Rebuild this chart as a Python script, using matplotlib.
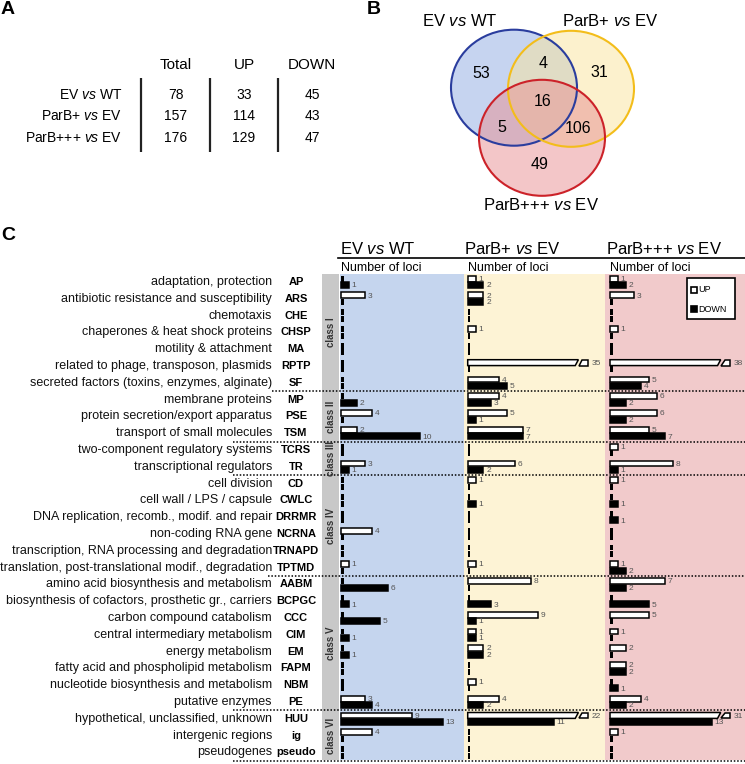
import matplotlib
matplotlib.use("Agg")
import matplotlib.pyplot as plt
from matplotlib.patches import Rectangle, Polygon, Ellipse

plt.rcParams['font.family'] = ['Liberation Sans', 'DejaVu Sans']
plt.rcParams['mathtext.fontset'] = 'custom'
plt.rcParams['mathtext.rm'] = 'Liberation Sans'
plt.rcParams['mathtext.it'] = 'Liberation Sans:italic'

# ---------------- data ----------------
comparisons = ["EV $\\mathit{vs}$ WT", "ParB+ $\\mathit{vs}$ EV", "ParB+++ $\\mathit{vs}$ EV"]
table_cols = ["Total", "UP", "DOWN"]
totals = [78, 157, 176]
ups = [33, 114, 129]
downs = [45, 43, 47]

venn_only_ev = 53
venn_only_p1 = 31
venn_only_p3 = 49
venn_ev_p1 = 4
venn_ev_p3 = 5
venn_p1_p3 = 106
venn_all = 16

descriptions = [
    "adaptation, protection", "antibiotic resistance and susceptibility", "chemotaxis",
    "chaperones & heat shock proteins", "motility & attachment",
    "related to phage, transposon, plasmids", "secreted factors (toxins, enzymes, alginate)",
    "membrane proteins", "protein secretion/export apparatus", "transport of small molecules",
    "two-component regulatory systems", "transcriptional regulators",
    "cell division", "cell wall / LPS / capsule", "DNA replication, recomb., modif. and repair",
    "non-coding RNA gene", "transcription, RNA processing and degradation",
    "translation, post-translational modif., degradation",
    "amino acid biosynthesis and metabolism", "biosynthesis of cofactors, prosthetic gr., carriers",
    "carbon compound catabolism", "central intermediary metabolism", "energy metabolism",
    "fatty acid and phospholipid metabolism", "nucleotide biosynthesis and metabolism",
    "putative enzymes",
    "hypothetical, unclassified, unknown", "intergenic regions", "pseudogenes",
]
abbrevs = ["AP", "ARS", "CHE", "CHSP", "MA", "RPTP", "SF",
           "MP", "PSE", "TSM",
           "TCRS", "TR",
           "CD", "CWLC", "DRRMR", "NCRNA", "TRNAPD", "TPTMD",
           "AABM", "BCPGC", "CCC", "CIM", "EM", "FAPM", "NBM", "PE",
           "HUU", "ig", "pseudo"]
class_names = ["class I", "class II", "class III", "class IV", "class V", "class VI"]
class_sizes = [7, 3, 2, 6, 8, 3]

ev_wt_up =   [0, 3, 0, 0, 0, 0, 0,  0, 4, 2,  0, 3,  0, 0, 0, 4, 0, 1,  0, 0, 0, 0, 0, 0, 0, 3,  9, 4, 0]
ev_wt_down = [1, 0, 0, 0, 0, 0, 0,  2, 0, 10, 0, 1,  0, 0, 0, 0, 0, 0,  6, 1, 5, 1, 1, 0, 0, 4,  13, 0, 0]
parb1_up =   [1, 2, 0, 1, 0, 35, 4, 4, 5, 7,  0, 6,  1, 0, 0, 0, 0, 1,  8, 0, 9, 1, 2, 0, 1, 4,  22, 0, 0]
parb1_down = [2, 2, 0, 0, 0, 0, 5,  3, 1, 7,  0, 2,  0, 1, 0, 0, 0, 0,  0, 3, 1, 1, 2, 0, 0, 2,  11, 0, 0]
parb3_up =   [1, 3, 0, 1, 0, 38, 5, 6, 6, 5,  1, 8,  1, 0, 0, 0, 0, 1,  7, 0, 5, 1, 2, 2, 0, 4,  31, 1, 0]
parb3_down = [2, 0, 0, 0, 0, 0, 4,  2, 2, 7,  0, 1,  0, 1, 1, 0, 0, 2,  2, 5, 0, 0, 0, 2, 1, 2,  13, 0, 0]

panel_series = [(ev_wt_up, ev_wt_down), (parb1_up, parb1_down), (parb3_up, parb3_down)]

# ---------------- layout ----------------
W, H = 745, 764
fig = plt.figure(figsize=(W / 100, H / 100), dpi=100)

ROW0, DROW = 282.0, 16.8
PTOP, PBOT = 274.0, 760.0
SCALE = 7.85
panel_geom = [(340, 464, 341.0), (464, 605, 467.7), (605, 745, 610.0)]
panel_bg = ["#c5d5ee", "#fdf3d5", "#f1cacb"]
CAP = 16
BH = 0.35          # bar height (row units)
OFF_UP, OFF_DN = -0.2, 0.19


def row_y(i):
    return ROW0 + i * DROW


for (left, right, origin), bg, (up, down) in zip(panel_geom, panel_bg, panel_series):
    ax = fig.add_axes([left / W, 1 - PBOT / H, (right - left) / W, (PBOT - PTOP) / H])
    ax.set_facecolor(bg)
    ax.set_xlim((left - origin) / SCALE, (right - origin) / SCALE)
    ax.set_ylim((PBOT - ROW0) / DROW, (PTOP - ROW0) / DROW)
    for s in ax.spines.values():
        s.set_visible(False)
    ax.set_xticks([]); ax.set_yticks([])
    for i in range(len(up)):
        for val, off, face in ((up[i], OFF_UP, "white"), (down[i], OFF_DN, "black")):
            yc = i + off
            top, bot = yc - BH / 2, yc + BH / 2
            if val == 0:
                ax.barh(yc, 0.35, height=BH, left=0, color="black", lw=0, zorder=3)
                continue
            if val > CAP:
                main = Polygon([(0, top), (14.1, top), (13.7, bot), (0, bot)], closed=True,
                               facecolor=face, edgecolor="black", lw=1.1, zorder=3)
                tail = Polygon([(14.6, top), (15.35, top), (15.35, bot), (14.2, bot)], closed=True,
                               facecolor=face, edgecolor="black", lw=1.1, zorder=3)
                ax.add_patch(main); ax.add_patch(tail)
                xl = 15.75
            else:
                ax.barh(yc, val, height=BH, left=0, facecolor=face, edgecolor="black",
                        lw=1.1, zorder=3)
                xl = val + 0.35
            ax.text(xl, yc + 0.04, str(val), fontsize=6, color="#555555",
                    va="center", ha="left", zorder=4)

# overlay axes in pixel coordinates
ov = fig.add_axes([0, 0, 1, 1], zorder=10)
ov.set_xlim(0, W); ov.set_ylim(H, 0); ov.axis("off")
ov.patch.set_alpha(0)

# panel letters
for lab, x, y in (("A", 1, 9), ("B", 367, 9), ("C", 1, 236)):
    ov.text(x, y, lab, fontsize=14, fontweight="bold", ha="left", va="center")

# ---- panel A table ----
col_x = [176, 244, 312]
row_ty = [95, 116.5, 137.5]
for cx, name in zip(col_x, table_cols):
    ov.text(cx, 65, name, fontsize=11, ha="center", va="center")
for ry, comp, t, u, d in zip(row_ty, comparisons, totals, ups, downs):
    ov.text(122, ry, comp, fontsize=10, ha="right", va="center")
    for cx, v in zip(col_x, (t, u, d)):
        ov.text(cx, ry, str(v), fontsize=10, ha="center", va="center")
for vx in (141, 210, 278):
    ov.plot([vx, vx], [78, 152], color="#222222", lw=1.6, solid_capstyle="butt")

# ---- panel B venn ----
venn = [((514, 87.7), "#8eabe2", "#2a3d9e"),
        ((571, 88.8), "#fbe49c", "#f3bd1a"),
        ((542, 137.8), "#e88f92", "#cc2229")]
for (c, fc, ec) in venn:
    ov.add_patch(Ellipse(c, 126, 116, facecolor=fc, edgecolor="none", alpha=0.5))
for (c, fc, ec) in venn:
    ov.add_patch(Ellipse(c, 126, 116, facecolor="none", edgecolor=ec, lw=1.5))
for (x, y, v) in ((481.7, 73.3, venn_only_ev), (543, 63.3, venn_ev_p1), (599, 72.7, venn_only_p1),
                  (543, 101, venn_all), (502, 127.7, venn_ev_p3), (578, 128.3, venn_p1_p3),
                  (540, 164.3, venn_only_p3)):
    ov.text(x, y, str(v), fontsize=11.5, ha="center", va="center")
ov.text(460, 21.5, comparisons[0], fontsize=12, ha="center", va="center")
ov.text(610.5, 21.5, comparisons[1], fontsize=12, ha="center", va="center")
ov.text(541, 205, comparisons[2], fontsize=12, ha="center", va="center")

# ---- panel C headers ----
for (left, right, origin), comp in zip(panel_geom, comparisons):
    ov.text(left + 0.5, 249, comp, fontsize=12, ha="left", va="center")
    ov.text(origin, 268, "Number of loci", fontsize=9, ha="left", va="center")
ov.plot([338, 745], [258, 258], color="black", lw=1.2)

# category labels
for i, (desc, ab) in enumerate(zip(descriptions, abbrevs)):
    y = row_y(i)
    ov.text(272, y, desc, fontsize=9, ha="right", va="center", color="#111111")
    ov.text(296, y, ab, fontsize=8, fontweight="bold", ha="center", va="center")

# class band
ov.add_patch(Rectangle((322, PTOP), 17, PBOT - PTOP, facecolor="#c8c8c8", edgecolor="none"))
start = 0
sep_x0 = [272, 233, 233, 268, 233, 233]
for name, size, x0 in zip(class_names, class_sizes, sep_x0):
    end = start + size - 1
    ymid = (row_y(start) + row_y(end)) / 2
    ov.text(330.5, ymid, name, fontsize=7, fontweight="bold", rotation=90,
            ha="center", va="center", color="#333333")
    ysep = row_y(end + 0.5)
    ov.plot([x0, 745], [ysep, ysep], color="black", lw=1.1, linestyle=(0, (1, 1.2)))
    start += size

# legend
ov.add_patch(Rectangle((687, 278), 48, 41, facecolor="white", edgecolor="black", lw=1.2))
ov.add_patch(Rectangle((690.5, 286.5), 6.5, 6.5, facecolor="white", edgecolor="black", lw=1.2))
ov.text(698.5, 290, "UP", fontsize=6.5, ha="left", va="center")
ov.add_patch(Rectangle((690.5, 305.5), 6.5, 6.5, facecolor="black", edgecolor="black", lw=1.2))
ov.text(698.5, 309, "DOWN", fontsize=6.5, ha="left", va="center")

fig.savefig("out.png", dpi=100)
